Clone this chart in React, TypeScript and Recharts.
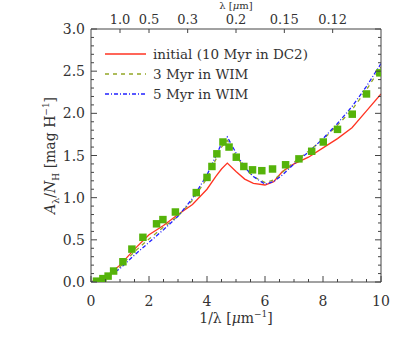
import React from 'react';
import { ComposedChart, Line, Scatter, XAxis, YAxis, ZAxis, Legend } from 'recharts';

// model curves, sampled on a common 1/lambda grid
const curveX = [0, 0.5, 1, 1.5, 2, 2.5, 3, 3.5, 4, 4.3, 4.5, 4.7, 5, 5.3, 5.6, 6, 6.3, 6.6, 7, 7.5, 8, 8.5, 9, 9.5, 10];
const initialY = [0, 0.06, 0.2, 0.39, 0.56, 0.67, 0.8, 0.92, 1.1, 1.25, 1.34, 1.41, 1.31, 1.22, 1.17, 1.15, 1.19, 1.31, 1.4, 1.48, 1.59, 1.7, 1.83, 2.03, 2.23];
const wim3Y = [0, 0.05, 0.18, 0.36, 0.51, 0.65, 0.78, 0.97, 1.23, 1.45, 1.6, 1.68, 1.5, 1.35, 1.25, 1.18, 1.21, 1.3, 1.42, 1.55, 1.69, 1.86, 2.04, 2.28, 2.55];
const wim5Y = [0, 0.04, 0.16, 0.32, 0.47, 0.62, 0.78, 0.99, 1.27, 1.49, 1.64, 1.72, 1.53, 1.36, 1.25, 1.16, 1.19, 1.27, 1.4, 1.54, 1.7, 1.88, 2.08, 2.32, 2.59];

// observed extinction curve (green squares)
const obsX = [0.19, 0.41, 0.59, 0.78, 1.1, 1.41, 1.79, 2.26, 2.48, 2.91, 3.63, 4.0, 4.17, 4.34, 4.55, 4.76, 5.01, 5.27, 5.57, 5.89, 6.26, 6.71, 7.17, 7.61, 8.01, 8.5, 9.01, 9.5, 9.96];
const obsY = [0.01, 0.04, 0.07, 0.13, 0.24, 0.39, 0.53, 0.69, 0.74, 0.83, 1.06, 1.24, 1.37, 1.52, 1.66, 1.6, 1.48, 1.37, 1.33, 1.32, 1.34, 1.39, 1.46, 1.55, 1.66, 1.81, 1.99, 2.23, 2.48];

const xTicks = [0, 0.5, 1, 1.5, 2, 2.5, 3, 3.5, 4, 4.5, 5, 5.5, 6, 6.5, 7, 7.5, 8, 8.5, 9, 9.5, 10];
const yTicks = [0, 0.1, 0.2, 0.3, 0.4, 0.5, 0.6, 0.7, 0.8, 0.9, 1, 1.1, 1.2, 1.3, 1.4, 1.5, 1.6, 1.7, 1.8, 1.9, 2, 2.1, 2.2, 2.3, 2.4, 2.5, 2.6, 2.7, 2.8, 2.9, 3];
const lambdaLabels = ['1.0', '0.5', '0.3', '0.2', '0.15', '0.12'];

const seriesNames = ['initial (10 Myr in DC2)', '3 Myr in WIM', '5 Myr in WIM'];

const RED = '#ff3322';
const OLIVE = '#93a626';
const BLUE = '#2222ff';
const GREEN = '#55b30a';
const AXIS = '#444';
const TEXT = '#333';
const FONT = '"DejaVu Serif", serif';

const toPoints = (xs: number[], ys: number[]) => xs.map((x, i) => ({ x, y: ys[i] }));
const initialData = toPoints(curveX, initialY);
const wim3Data = toPoints(curveX, wim3Y);
const wim5Data = toPoints(curveX, wim5Y);
const obsData = toPoints(obsX, obsY);
const topTicks = lambdaLabels.map((l) => 1 / parseFloat(l));

const isMult = (v: number, step: number) => Math.abs(v / step - Math.round(v / step)) < 1e-6;

function lambdaLabel(v: number) {
  let best = 0;
  topTicks.forEach((t, i) => {
    if (Math.abs(t - v) < Math.abs(topTicks[best] - v)) best = i;
  });
  return lambdaLabels[best];
}

function BottomTick(props: any) {
  const { x, y, payload } = props;
  const major = isMult(payload.value, 2);
  return (
    <g>
      <line x1={x} x2={x} y1={y} y2={y - (major ? 6 : 3)} stroke={AXIS} />
      {major && (
        <text x={x} y={y + 24} textAnchor="middle" fontSize={14} fill={TEXT} fontFamily={FONT}>
          {payload.value}
        </text>
      )}
    </g>
  );
}

function TopTick(props: any) {
  const { x, y, payload } = props;
  return (
    <g>
      <line x1={x} x2={x} y1={y} y2={y + 4} stroke={AXIS} />
      <text x={x} y={y - 5} textAnchor="middle" fontSize={13} fill={TEXT} fontFamily={FONT}>
        {lambdaLabel(payload.value)}
      </text>
    </g>
  );
}

function LeftTick(props: any) {
  const { x, y, payload } = props;
  const major = isMult(payload.value, 0.5);
  return (
    <g>
      <line x1={x} x2={x + (major ? 6 : 3)} y1={y} y2={y} stroke={AXIS} />
      {major && (
        <text x={x - 6} y={y + 5} textAnchor="end" fontSize={14} fill={TEXT} fontFamily={FONT}>
          {payload.value.toFixed(1)}
        </text>
      )}
    </g>
  );
}

function RightTick(props: any) {
  const { x, y, payload } = props;
  const major = isMult(payload.value, 0.5);
  return <line x1={x} x2={x - (major ? 6 : 3)} y1={y} y2={y} stroke={AXIS} />;
}

function BottomTitle(props: any) {
  const { viewBox } = props;
  const cx = viewBox.x + viewBox.width / 2;
  return (
    <text x={cx} y={viewBox.y + 41} textAnchor="middle" fontSize={14} fill={TEXT} fontFamily={FONT}>
      1/λ [<tspan fontStyle="italic">μ</tspan>m<tspan dy={-6} fontSize={9}>−1</tspan>
      <tspan dy={6}>]</tspan>
    </text>
  );
}

function TopTitle(props: any) {
  const { viewBox } = props;
  const cx = viewBox.x + viewBox.width / 2;
  return (
    <text x={cx} y={9.3} textAnchor="middle" fontSize={10} fill={TEXT} fontFamily={FONT}>
      λ [<tspan fontStyle="italic">μ</tspan>m]
    </text>
  );
}

function LeftTitle(props: any) {
  const { viewBox } = props;
  const cx = 55;
  const cy = viewBox.y + viewBox.height / 2;
  return (
    <text
      x={cx}
      y={cy}
      transform={`rotate(-90 ${cx} ${cy})`}
      textAnchor="middle"
      fontSize={14}
      fill={TEXT}
      fontFamily={FONT}
    >
      <tspan fontStyle="italic">A</tspan>
      <tspan dy={4} fontSize={10}>λ</tspan>
      <tspan dy={-4}>/</tspan>
      <tspan fontStyle="italic">N</tspan>
      <tspan dy={4} fontSize={9}>H</tspan>
      <tspan dy={-4}> [mag H</tspan>
      <tspan dy={-6} fontSize={9}>−1</tspan>
      <tspan dy={6}>]</tspan>
    </text>
  );
}

const legendStyles = [
  { color: RED, dash: undefined },
  { color: OLIVE, dash: '4 4' },
  { color: BLUE, dash: '4 2 1 2' },
];

function LegendBox() {
  return (
    <svg width={240} height={60} style={{ display: 'block', overflow: 'visible' }}>
      {seriesNames.map((name, i) => (
        <g key={name}>
          <line
            x1={5}
            x2={46}
            y1={10 + i * 20}
            y2={10 + i * 20}
            stroke={legendStyles[i].color}
            strokeWidth={1.3}
            strokeDasharray={legendStyles[i].dash}
          />
          <text x={53} y={14.5 + i * 20} fontSize={13.5} fill={TEXT} fontFamily={FONT}>
            {name}
          </text>
        </g>
      ))}
    </svg>
  );
}

export default function App() {
  return (
    <div style={{ position: 'absolute', left: 0, top: 0, width: 409, height: 341, background: '#fff' }}>
      <ComposedChart width={409} height={341} margin={{ top: 5, right: 20, bottom: 19, left: 31 }}>
        <XAxis
          dataKey="x"
          type="number"
          domain={[0, 10]}
          ticks={xTicks}
          interval={0}
          tickSize={0}
          tickMargin={0}
          tick={BottomTick}
          stroke={AXIS}
          height={40}
          allowDataOverflow
          label={{ content: BottomTitle }}
        />
        <XAxis
          xAxisId="top"
          dataKey="x"
          orientation="top"
          type="number"
          domain={[0, 10]}
          ticks={topTicks}
          interval={0}
          tickSize={0}
          tickMargin={0}
          tick={TopTick}
          stroke={AXIS}
          height={24}
          allowDataOverflow
          label={{ content: TopTitle }}
        />
        <YAxis
          dataKey="y"
          type="number"
          domain={[0, 3]}
          ticks={yTicks}
          interval={0}
          tickSize={0}
          tickMargin={0}
          tick={LeftTick}
          stroke={AXIS}
          width={60}
          allowDataOverflow
          label={{ content: LeftTitle }}
        />
        <YAxis
          yAxisId="right"
          dataKey="y"
          orientation="right"
          type="number"
          domain={[0, 3]}
          ticks={yTicks}
          interval={0}
          tickSize={0}
          tickMargin={0}
          tick={RightTick}
          stroke={AXIS}
          width={8}
          allowDataOverflow
        />
        <ZAxis type="number" range={[56, 56]} />
        <Legend
          layout="vertical"
          align="center"
          verticalAlign="middle"
          wrapperStyle={{ left: 100, top: 44, width: 240, height: 60 }}
          content={LegendBox}
        />
        <Line data={initialData} dataKey="y" type="linear" stroke={RED} strokeWidth={1.3} dot={false} isAnimationActive={false} />
        <Line data={wim3Data} dataKey="y" type="linear" stroke={OLIVE} strokeWidth={1.3} strokeDasharray="4 4" dot={false} isAnimationActive={false} />
        <Line data={wim5Data} dataKey="y" type="linear" stroke={BLUE} strokeWidth={1.3} strokeDasharray="4 2 1 2" dot={false} isAnimationActive={false} />
        <Scatter
          data={obsData}
          dataKey="y"
          xAxisId="top"
          yAxisId="right"
          shape="square"
          fill={GREEN}
          isAnimationActive={false}
        />
      </ComposedChart>
    </div>
  );
}
